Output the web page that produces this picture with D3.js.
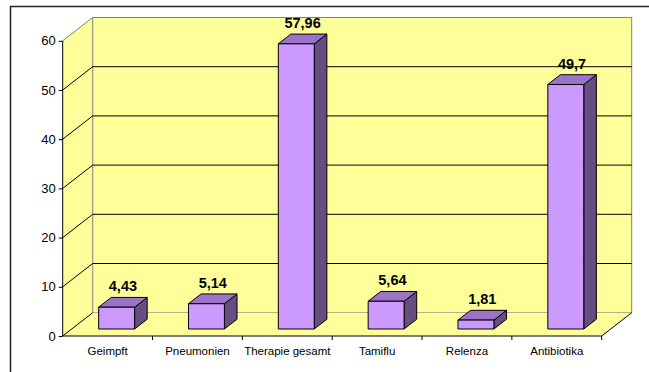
<!DOCTYPE html>
<html>
<head>
<meta charset="utf-8">
<script src="https://cdn.jsdelivr.net/npm/d3@7"></script>
<style>
  body { margin: 0; background: #fff; }
  svg { display: block; font-family: Arial, "Liberation Sans", sans-serif; }
</style>
</head>
<body>
<svg id="chart" width="649" height="372"></svg>
<script>
const categories = ["Geimpft", "Pneumonien", "Therapie gesamt", "Tamiflu", "Relenza", "Antibiotika"];
const values = [4.43, 5.14, 57.96, 5.64, 1.81, 49.7];
const yTicks = [0, 10, 20, 30, 40, 50, 60];

const width = 649;
const height = 372;

// 3d depth of the walls and where the bars sit inside it
const depthX = 30;
const depthY = -23.3;
const barFront = 0.3;
const barBack = 0.72;

const wallColor = "#ffff99";
const wallEdge = "#808080";

const svg = d3.select("#chart");
svg.selectAll("*").remove();

const x = d3.scaleBand()
  .domain(categories)
  .range([62.7, 601.7])
  .paddingInner(0)
  .paddingOuter(0);

const y = d3.scaleLinear()
  .domain([0, 60])
  .range([336, 40.8]);

// project a front-plane point back by depth fraction d
const p = (px, py, d) => [px + d * depthX, py + d * depthY];
const pts = (arr) => arr.map((a) => a.join(",")).join(" ");

// outer frame
svg.append("rect")
  .attr("x", 10.5).attr("y", 6.5)
  .attr("width", 700).attr("height", 400)
  .attr("fill", "none")
  .attr("stroke", "#222")
  .attr("stroke-width", 1.5);

const x0 = x.range()[0], x1 = x.range()[1];
const yMin = y(0), yMax = y(60);

// left wall
svg.append("polygon")
  .attr("points", pts([[x0, yMin], [x0, yMax], p(x0, yMax, 1), p(x0, yMin, 1)]))
  .attr("fill", wallColor);

// back wall
const bw0 = p(x0, yMax, 1), bw1 = p(x1, yMin, 1);
svg.append("rect")
  .attr("x", bw0[0]).attr("y", bw0[1])
  .attr("width", bw1[0] - bw0[0]).attr("height", bw1[1] - bw0[1])
  .attr("fill", wallColor)
  .attr("stroke", wallEdge)
  .attr("stroke-width", 1);

// floor
svg.append("polygon")
  .attr("points", pts([[x0, yMin], [x1, yMin], p(x1, yMin, 1), p(x0, yMin, 1)]))
  .attr("fill", wallColor);

// gridlines on back wall and left wall
yTicks.filter((t) => t > 0 && t < 60).forEach((t) => {
  const a = p(x0, y(t), 1), b = p(x1, y(t), 1);
  svg.append("line")
    .attr("x1", a[0]).attr("y1", a[1]).attr("x2", b[0]).attr("y2", b[1])
    .attr("stroke", "#000");
  svg.append("line")
    .attr("x1", x0).attr("y1", y(t)).attr("x2", a[0]).attr("y2", a[1])
    .attr("stroke", "#000");
});

// left wall top edge
const lt = p(x0, yMax, 1);
svg.append("line")
  .attr("x1", x0).attr("y1", yMax).attr("x2", lt[0]).attr("y2", lt[1])
  .attr("stroke", wallEdge);

// floor edges
const lb = p(x0, yMin, 1), rb = p(x1, yMin, 1);
svg.append("line")
  .attr("x1", x0).attr("y1", yMin).attr("x2", lb[0]).attr("y2", lb[1])
  .attr("stroke", "#000");
svg.append("line")
  .attr("x1", x1).attr("y1", yMin).attr("x2", rb[0]).attr("y2", rb[1])
  .attr("stroke", "#000");

// bars
const bw = x.bandwidth() * 0.4;
const bars = svg.append("g");
categories.forEach((c, i) => {
  const v = values[i];
  const cx = x(c) + x.bandwidth() / 2;
  const fl = p(cx - bw / 2, y(0), barFront);
  const fr = p(cx + bw / 2, y(0), barFront);
  const tl = p(cx - bw / 2, y(v), barFront);
  const tr = p(cx + bw / 2, y(v), barFront);
  const d = barBack - barFront;
  const btl = [tl[0] + d * depthX, tl[1] + d * depthY];
  const btr = [tr[0] + d * depthX, tr[1] + d * depthY];
  const bbr = [fr[0] + d * depthX, fr[1] + d * depthY];

  // side
  bars.append("polygon")
    .attr("points", pts([fr, tr, btr, bbr]))
    .attr("fill", "#664e80")
    .attr("stroke", "#000")
    .attr("stroke-linejoin", "round");
  // top
  bars.append("polygon")
    .attr("points", pts([tl, tr, btr, btl]))
    .attr("fill", "#9b74c9")
    .attr("stroke", "#000")
    .attr("stroke-linejoin", "round");
  // front
  bars.append("polygon")
    .attr("points", pts([fl, fr, tr, tl]))
    .attr("fill", "#cc99ff")
    .attr("stroke", "#000")
    .attr("stroke-linejoin", "round");

  // value label
  const mid = p(cx, y(v), (barFront + barBack) / 2);
  bars.append("text")
    .attr("x", mid[0])
    .attr("y", mid[1] - 11)
    .attr("text-anchor", "middle")
    .attr("font-size", "14.5px")
    .attr("font-weight", "bold")
    .attr("fill", "#000")
    .text(String(v).replace(".", ","));
});

// y axis
const yAxis = svg.append("g")
  .attr("transform", `translate(${x0},0)`)
  .call(d3.axisLeft(y).tickValues(yTicks).tickSize(4).tickPadding(3).tickFormat(d3.format("d")));
yAxis.select(".domain").attr("stroke", "#000").attr("d", `M0,${yMin}V${yMax}`);
yAxis.selectAll(".tick line").attr("stroke", "#000");
yAxis.selectAll(".tick text")
  .attr("font-size", "13px")
  .attr("fill", "#000")
  .attr("font-family", "Arial, 'Liberation Sans', sans-serif");

// x axis
const xAxis = svg.append("g")
  .attr("transform", `translate(0,${yMin})`)
  .call(d3.axisBottom(x).tickSize(0).tickPadding(11));
xAxis.select(".domain").attr("stroke", "#000").attr("d", `M${x0},0H${x1}`);
xAxis.selectAll(".tick text")
  .attr("font-size", "11.5px")
  .attr("fill", "#000")
  .attr("font-family", "Arial, 'Liberation Sans', sans-serif");

// tick marks between categories
xAxis.selectAll(".sep")
  .data(categories.slice(1).concat(["end"]))
  .enter()
  .append("line")
  .attr("class", "sep")
  .attr("x1", (d, i) => x(categories[i]) + x.bandwidth())
  .attr("x2", (d, i) => x(categories[i]) + x.bandwidth())
  .attr("y1", 0)
  .attr("y2", 4)
  .attr("stroke", "#000");
</script>
</body>
</html>
